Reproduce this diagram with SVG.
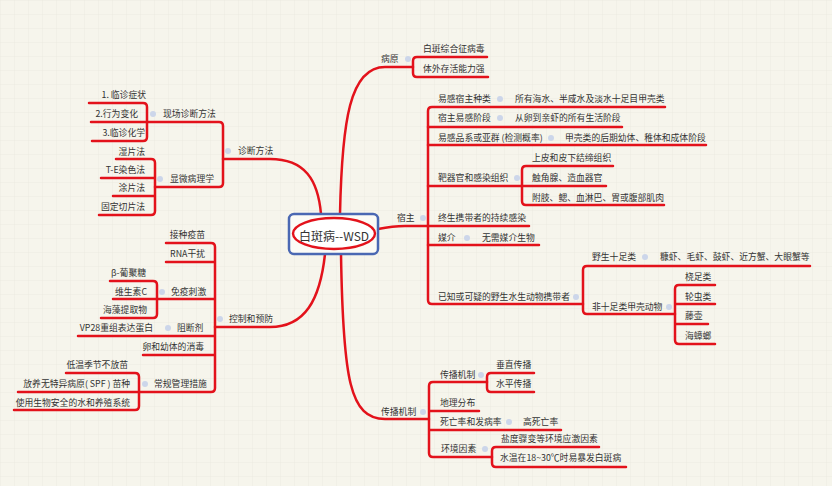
<svg xmlns="http://www.w3.org/2000/svg" width="832" height="486" viewBox="0 0 832 486">
<defs>
<pattern id="grid" width="14" height="14" patternUnits="userSpaceOnUse">
<path d="M14 0H0V14" fill="none" stroke="#eae9de" stroke-width="0.8"/>
</pattern>
<style>
text{font-family:"Noto Sans CJK SC","Noto Sans",sans-serif;font-size:8.8px;fill:#333}
.e{text-anchor:end}
.c path{fill:none;stroke:#e3121b;stroke-width:2.5;stroke-linecap:round;stroke-linejoin:round}
.d{fill:#ccd6ea}
</style>
</defs>
<rect width="832" height="486" fill="#f6f5ec"/>
<rect width="832" height="486" fill="url(#grid)"/>
<g class="c" id="connectors">
<path d="M340,214 C342,120 350,67 385,67 L413,67"/>
<path d="M487,57 L417,57 Q413,57 413,61 L413,73 Q413,77 417,77 L488,77"/>
<path d="M378,229 C388,227 395,226 405,226 L428,226"/>
<path d="M665,107 L432,107 Q428,107 428,111 L428,300 Q428,304 432,304 L583,304"/>
<path d="M428,127 H622 M428,145 H706 M428,186 H522 M428,226 H529 M428,245 H539"/>
<path d="M613,166 L526,166 Q522,166 522,170 L522,201 Q522,205 526,205 L664,205 M522,186 H606"/>
<path d="M810,266 L587,266 Q583,266 583,270 L583,310 Q583,314 587,314 L675,314"/>
<path d="M715,285 L679,285 Q675,285 675,289 L675,340 Q675,344 679,344 L715,344 M675,304 H715 M675,324 H708"/>
<path d="M341,254 C343,380 350,419 385,419 L429,419"/>
<path d="M487,382 L433,382 Q429,382 429,386 L429,453 Q429,457 433,457 L492,457 M429,411 H479 M429,430 H561"/>
<path d="M534,373 L491,373 Q487,373 487,377 L487,388 Q487,392 491,392 L534,392"/>
<path d="M599,447 L496,447 Q492,447 492,451 L492,463 Q492,467 496,467 L626,467"/>
<path d="M321,214 C318,180 305,159 270,159 L223,159"/>
<path d="M147,122 L219,122 Q223,122 223,126 L223,183 Q223,187 219,187 L155,187"/>
<path d="M89,103 L143,103 Q147,103 147,107 L147,137 Q147,141 143,141 L92,141 M147,122 H91"/>
<path d="M116,159 L151,159 Q155,159 155,163 L155,211 Q155,215 151,215 L99,215 M155,178 H101 M155,196 H113"/>
<path d="M325,254 C320,300 305,327 270,327 L215,327"/>
<path d="M166,243 L211,243 Q215,243 215,247 L215,388 Q215,392 211,392 L139,392 M215,262 H166 M215,299 H157 M215,336 H78 M215,355 H143"/>
<path d="M110,281 L153,281 Q157,281 157,285 L157,314 Q157,318 153,318 L101,318 M157,299 H113"/>
<path d="M66,373 L135,373 Q139,373 139,377 L139,406 Q139,410 135,410 L14,410 M139,392 H18"/>
</g>
<g id="root">
<rect x="289" y="214" width="89" height="40" rx="5" fill="#fbfbf6" stroke="#4a68b3" stroke-width="2.5"/>
<ellipse cx="334" cy="233.5" rx="41" ry="15.5" fill="#fff" stroke="#e3121b" stroke-width="2.4"/>
<text x="334" y="241" text-anchor="middle" style="font-size:12px">白斑病--WSD</text>
</g>
<g id="n-bingyuan"><text x="381" y="62">病原</text><circle class="d" cx="408" cy="59" r="3"/></g>
<g id="n-by1"><text x="423" y="52">白斑综合征病毒</text></g>
<g id="n-by2"><text x="423" y="72">体外存活能力强</text></g>
<g id="n-suzhu"><text x="397" y="221">宿主</text><circle class="d" cx="423" cy="218" r="3"/></g>
<g id="n-sz1"><text x="438" y="102">易感宿主种类</text><circle class="d" cx="500" cy="99" r="3"/><text x="515" y="102">所有海水、半咸水及淡水十足目甲壳类</text></g>
<g id="n-sz2"><text x="438" y="121">宿主易感阶段</text><circle class="d" cx="500" cy="118" r="3"/><text x="515" y="121">从卵到亲虾的所有生活阶段</text></g>
<g id="n-sz3"><text x="438" y="141">易感品系或亚群 (检测概率)</text><circle class="d" cx="551" cy="138" r="3"/><text x="565" y="141">甲壳类的后期幼体、稚体和成体阶段</text></g>
<g id="n-sz4"><text x="438" y="181">靶器官和感染组织</text><circle class="d" cx="517" cy="178" r="3"/></g>
<g id="n-sz4a"><text x="532" y="161">上皮和皮下结缔组织</text></g>
<g id="n-sz4b"><text x="532" y="181">触角腺、造血器官</text></g>
<g id="n-sz4c"><text x="532" y="201">附肢、鳃、血淋巴、胃或腹部肌肉</text></g>
<g id="n-sz5"><text x="438" y="221">终生携带者的持续感染</text></g>
<g id="n-sz6"><text x="438" y="241">媒介</text><circle class="d" cx="467" cy="238" r="3"/><text x="482" y="241">无需媒介生物</text></g>
<g id="n-sz7"><text x="438" y="300">已知或可疑的野生水生动物携带者</text><circle class="d" cx="576" cy="297" r="3"/></g>
<g id="n-sz7a"><text x="592" y="260">野生十足类</text><circle class="d" cx="645" cy="257" r="3"/><text x="660" y="260">糠虾、毛虾、鼓虾、近方蟹、大眼蟹等</text></g>
<g id="n-sz7b"><text x="592" y="310">非十足类甲壳动物</text><circle class="d" cx="669" cy="307" r="3"/></g>
<g id="n-sz7b1"><text x="685" y="280">桡足类</text></g>
<g id="n-sz7b2"><text x="685" y="300">轮虫类</text></g>
<g id="n-sz7b3"><text x="685" y="319">藤壶</text></g>
<g id="n-sz7b4"><text x="685" y="339">海蟑螂</text></g>
<g id="n-chuanbo"><text x="381" y="415">传播机制</text><circle class="d" cx="423" cy="412" r="3"/></g>
<g id="n-cb1"><text x="440" y="378">传播机制</text><circle class="d" cx="481" cy="375" r="3"/></g>
<g id="n-cb1a"><text x="496" y="368">垂直传播</text></g>
<g id="n-cb1b"><text x="496" y="387">水平传播</text></g>
<g id="n-cb2"><text x="440" y="406">地理分布</text></g>
<g id="n-cb3"><text x="440" y="425">死亡率和发病率</text><circle class="d" cx="509" cy="422" r="3"/><text x="523" y="425">高死亡率</text></g>
<g id="n-cb4"><text x="441" y="452">环境因素</text><circle class="d" cx="485" cy="449" r="3"/></g>
<g id="n-cb4a"><text x="501" y="442">盐度骤变等环境应激因素</text></g>
<g id="n-cb4b"><text x="500" y="461">水温在18~30℃时易暴发白斑病</text></g>
<g id="n-zhenduan"><circle class="d" cx="228" cy="151" r="3"/><text x="238" y="154">诊断方法</text></g>
<g id="n-zd1"><circle class="d" cx="153" cy="114" r="3"/><text x="163" y="117">现场诊断方法</text></g>
<g id="n-zd1a"><text class="e" x="146" y="98">1. 临诊症状</text></g>
<g id="n-zd1b"><text class="e" x="138" y="117">2.行为变化</text></g>
<g id="n-zd1c"><text class="e" x="145" y="136">3.临诊化学</text></g>
<g id="n-zd2"><circle class="d" cx="160" cy="179" r="3"/><text x="170" y="182">显微病理学</text></g>
<g id="n-zd2a"><text class="e" x="145" y="155">湿片法</text></g>
<g id="n-zd2b"><text class="e" x="145" y="173">T-E染色法</text></g>
<g id="n-zd2c"><text class="e" x="145" y="191">涂片法</text></g>
<g id="n-zd2d"><text class="e" x="145" y="210">固定切片法</text></g>
<g id="n-kongzhi"><circle class="d" cx="220" cy="319" r="3"/><text x="229" y="322">控制和预防</text></g>
<g id="n-kz1"><text class="e" x="205" y="238">接种疫苗</text></g>
<g id="n-kz2"><text class="e" x="205" y="257">RNA干扰</text></g>
<g id="n-kz3"><circle class="d" cx="162" cy="292" r="3"/><text x="171" y="295">免疫刺激</text></g>
<g id="n-kz3a"><text class="e" x="146" y="276">β-葡聚糖</text></g>
<g id="n-kz3b"><text class="e" x="147" y="295">维生素C</text></g>
<g id="n-kz3c"><text class="e" x="147" y="313">海藻提取物</text></g>
<g id="n-kz4"><text class="e" x="153" y="331">VP28重组表达蛋白</text><circle class="d" cx="168" cy="328" r="3"/><text x="177" y="331">阻断剂</text></g>
<g id="n-kz5"><text class="e" x="204" y="350">卵和幼体的消毒</text></g>
<g id="n-kz6"><circle class="d" cx="145" cy="384" r="3"/><text x="154" y="387">常规管理措施</text></g>
<g id="n-kz6a"><text class="e" x="128" y="368">低温季节不放苗</text></g>
<g id="n-kz6b"><text class="e" x="130" y="387">放养无特异病原( SPF ) 苗种</text></g>
<g id="n-kz6c"><text class="e" x="130" y="406">使用生物安全的水和养殖系统</text></g>
</svg>
